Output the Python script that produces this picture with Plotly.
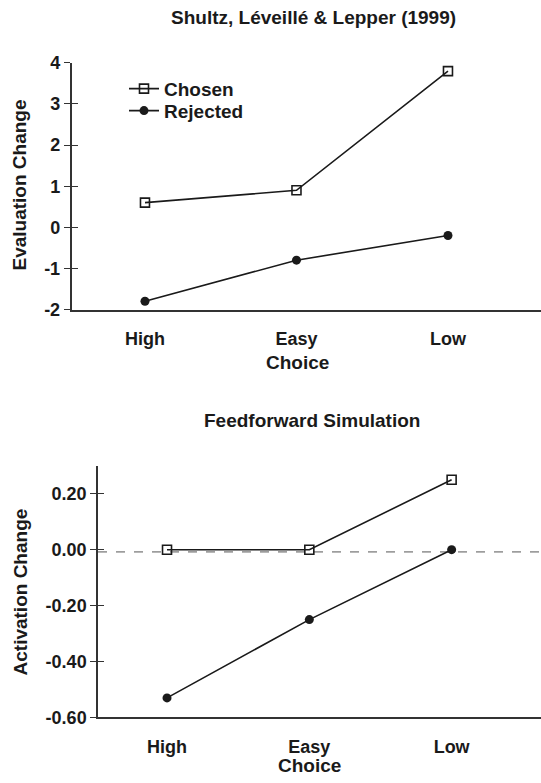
import plotly.graph_objects as go

categories = ["High", "Easy", "Low"]
study_chosen = [0.6, 0.9, 3.8]
study_rejected = [-1.8, -0.8, -0.2]
sim_chosen = [0.0, 0.0, 0.25]
sim_rejected = [-0.53, -0.25, 0.0]
sim_reference = -0.008

top_ticks = [4, 3, 2, 1, 0, -1, -2]
top_ticktext = ["4", "3", "2", "1", "0", "-1", "-2"]
bot_ticks = [0.2, 0.0, -0.2, -0.4, -0.6]
bot_ticktext = ["0.20", "0.00", "-0.20", "-0.40", "-0.60"]

W, H = 541, 783
FAM = "Liberation Sans, Arial, sans-serif"
INK = "#1a1a1a"


def px_x(p):
    return p / W


def px_y(p):
    # vertical placement measured on the photographed page
    return 1 - ((p - 9) / 0.977) / H


tick_font = dict(family=FAM, size=18, color=INK, weight="bold")
text_font = dict(family=FAM, size=19, color=INK, weight="bold")

fig = go.Figure()

fig.add_trace(go.Scatter(x=categories, y=study_chosen, name="Chosen", mode="lines+markers",
                         line=dict(color=INK, width=1.6), legend="legend",
                         marker=dict(symbol="square-open", size=9, color=INK, line=dict(width=1.6)),
                         xaxis="x", yaxis="y"))
fig.add_trace(go.Scatter(x=categories, y=study_rejected, name="Rejected", mode="lines+markers",
                         line=dict(color=INK, width=1.6), legend="legend2",
                         marker=dict(symbol="circle", size=9, color=INK),
                         xaxis="x", yaxis="y"))
fig.add_trace(go.Scatter(x=categories, y=sim_chosen, name="Chosen", mode="lines+markers",
                         line=dict(color=INK, width=1.6), showlegend=False,
                         marker=dict(symbol="square-open", size=9, color=INK, line=dict(width=1.6)),
                         xaxis="x2", yaxis="y2"))
fig.add_trace(go.Scatter(x=categories, y=sim_rejected, name="Rejected", mode="lines+markers",
                         line=dict(color=INK, width=1.6), showlegend=False,
                         marker=dict(symbol="circle", size=9, color=INK),
                         xaxis="x2", yaxis="y2"))

axis_common = dict(showgrid=False, zeroline=False, showline=True, linecolor="#333", linewidth=1.5,
                   tickfont=tick_font)

top_dom = [px_y(309.3), px_y(62)]
bot_dom = [px_y(718.3), px_y(466)]

fig.update_layout(
    width=W, height=H, autosize=False,
    margin=dict(l=0, r=0, t=0, b=0),
    paper_bgcolor="white", plot_bgcolor="white",
    font=tick_font,
    xaxis=dict(domain=[px_x(71.5), 1.0], anchor="y", range=[-0.485, 2.614], ticks="",
               ticklabelstandoff=12, **axis_common),
    yaxis=dict(domain=top_dom, anchor="x", range=[-2, 4], tickvals=top_ticks,
               ticktext=top_ticktext, ticks="outside", ticklen=6, tickcolor="#333", tickwidth=1.3,
               **axis_common),
    yaxis3=dict(domain=top_dom, anchor="x", overlaying="y", range=[-2, 4], tickvals=top_ticks,
                showticklabels=False, ticks="inside", ticklen=6, tickcolor="#333", tickwidth=1.3,
                showgrid=False, zeroline=False, showline=False),
    xaxis2=dict(domain=[px_x(98), 1.0], anchor="y2", range=[-0.485, 2.628], ticks="",
                ticklabelstandoff=12, **axis_common),
    yaxis2=dict(domain=bot_dom, anchor="x2", range=[-0.6, 0.3], tickvals=bot_ticks,
                ticktext=bot_ticktext, ticks="outside", ticklen=6, tickcolor="#333", tickwidth=1.3,
                **axis_common),
    yaxis4=dict(domain=bot_dom, anchor="x2", overlaying="y2", range=[-0.6, 0.3], tickvals=bot_ticks,
                showticklabels=False, ticks="inside", ticklen=6, tickcolor="#333", tickwidth=1.3,
                showgrid=False, zeroline=False, showline=False),
    showlegend=True,
    legend=dict(x=px_x(124), y=px_y(88), xanchor="left", yanchor="middle", bgcolor="rgba(0,0,0,0)",
                font=text_font, itemwidth=30),
    legend2=dict(x=px_x(124), y=px_y(110), xanchor="left", yanchor="middle", bgcolor="rgba(0,0,0,0)",
                 font=text_font, itemwidth=30),
)

# overlay axes that draw the inner half of each y tick (ticks cross the axis line)
fig.add_trace(go.Scatter(x=[categories[0]], y=[top_ticks[-1]], mode="markers", opacity=0,
                         showlegend=False, hoverinfo="skip", xaxis="x", yaxis="y3"))
fig.add_trace(go.Scatter(x=[categories[0]], y=[bot_ticks[-1]], mode="markers", opacity=0,
                         showlegend=False, hoverinfo="skip", xaxis="x2", yaxis="y4"))

fig.add_shape(type="line", xref="x2 domain", x0=0, x1=1, yref="y2", y0=sim_reference, y1=sim_reference,
              line=dict(color="#555", width=1, dash="dash"), layer="below")

annots = [
    dict(text="Shultz, Léveillé &amp; Lepper (1999)", x=px_x(313), y=px_y(17)),
    dict(text="Choice", x=px_x(297), y=px_y(362)),
    dict(text="Evaluation Change", x=px_x(20), y=px_y(185), textangle=-90),
    dict(text="Feedforward Simulation", x=px_x(312), y=px_y(421)),
    dict(text="Choice", x=px_x(309), y=1 - 775 / H),
    dict(text="Activation Change", x=px_x(20), y=px_y(593), textangle=-90),
]
for a in annots:
    fig.add_annotation(xref="paper", yref="paper", showarrow=False, xanchor="center", yanchor="middle",
                       font=text_font, **a)

post = ("document.documentElement.style.margin='0';document.documentElement.style.padding='0';"
        "document.body.style.margin='0';document.body.style.padding='0';document.body.style.overflow='hidden';"
        "var d=document.querySelector('.plotly-graph-div');d.style.position='fixed';d.style.top='0px';"
        "d.style.left='0px';")
fig.write_html("out.html", config={"responsive": False, "displayModeBar": False}, post_script=post)
